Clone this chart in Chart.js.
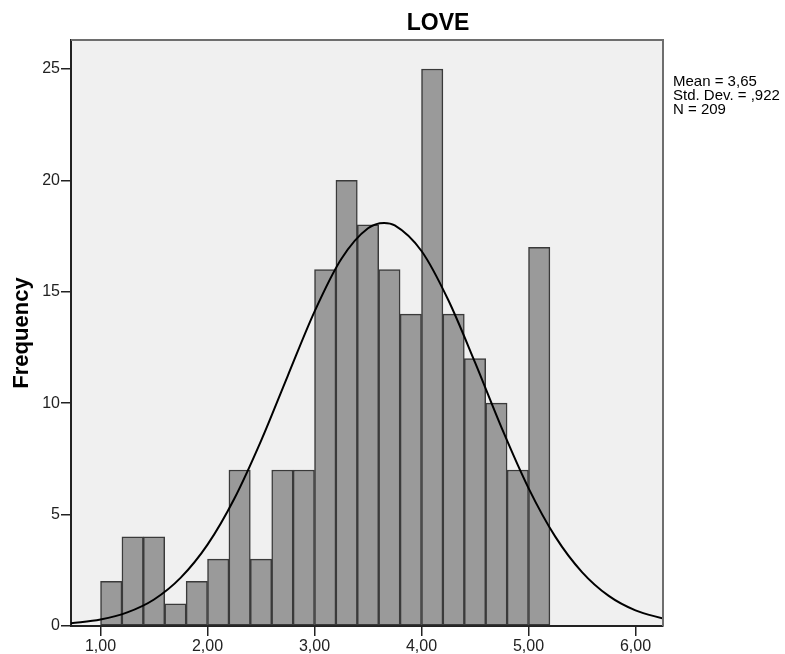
<!DOCTYPE html>
<html>
<head>
<meta charset="utf-8">
<script src="https://cdn.jsdelivr.net/npm/chart.js@4.4.1/dist/chart.umd.min.js"></script>
<style>
  html, body { margin: 0; padding: 0; background: #ffffff; }
  #wrap { width: 785px; height: 654px; position: relative; }
</style>
</head>
<body>
<div id="wrap"><canvas id="c" width="785" height="654"></canvas></div>
<script>
// ---- data ----
const chartTitle = 'LOVE';
const yAxisTitle = 'Frequency';
const binCenters = [1.1, 1.3, 1.5, 1.7, 1.9, 2.1, 2.3, 2.5, 2.7, 2.9, 3.1, 3.3, 3.5, 3.7, 3.9, 4.1, 4.3, 4.5, 4.7, 4.9, 5.1];
const frequencies = [2, 4, 4, 1, 2, 3, 7, 3, 7, 7, 16, 20, 18, 16, 14, 25, 14, 12, 10, 7, 17];
const curveX = [0.72, 1.0, 1.25, 1.5, 1.75, 2.0, 2.25, 2.5, 2.75, 3.0, 3.25, 3.5, 3.65, 3.75, 4.0, 4.25, 4.5, 4.75, 5.0, 5.25, 5.5, 5.75, 6.0, 6.26];
const curveY = [0.12, 0.29, 0.61, 1.19, 2.17, 3.65, 5.71, 8.31, 11.23, 14.11, 16.47, 17.85, 18.09, 17.98, 16.83, 14.63, 11.83, 8.88, 6.19, 4.01, 2.42, 1.35, 0.70, 0.33];
const xTickValues = [1, 2, 3, 4, 5, 6];
const xTickLabels = ['1,00', '2,00', '3,00', '4,00', '5,00', '6,00'];
const yTickValues = [0, 5, 10, 15, 20, 25];
const statLines = ['Mean = 3,65', 'Std. Dev. = ,922', 'N = 209'];
const xRange = [0.724, 6.257];
const yRange = [0, 26.3];

const FONT = '"Liberation Sans", Arial, sans-serif';

const decorPlugin = {
  id: 'decor',
  beforeDraw(chart) {
    const { ctx, chartArea: a } = chart;
    ctx.save();
    ctx.fillStyle = '#ffffff';
    ctx.fillRect(0, 0, chart.width, chart.height);
    ctx.fillStyle = '#f0f0f0';
    ctx.fillRect(a.left, a.top, a.right - a.left, a.bottom - a.top);
    ctx.restore();
  },
  afterDraw(chart) {
    const { ctx, chartArea: a } = chart;
    ctx.save();
    // top and right frame
    ctx.strokeStyle = '#6e6e6e';
    ctx.lineWidth = 2;
    ctx.beginPath();
    ctx.moveTo(a.left, a.top);
    ctx.lineTo(a.right, a.top);
    ctx.lineTo(a.right, a.bottom);
    ctx.stroke();
    // title
    ctx.fillStyle = '#000000';
    ctx.font = 'bold 23px ' + FONT;
    ctx.textAlign = 'center';
    ctx.textBaseline = 'alphabetic';
    ctx.fillText(chartTitle, 438, 30);
    // y axis title
    ctx.save();
    ctx.translate(28, (a.top + a.bottom) / 2);
    ctx.rotate(-Math.PI / 2);
    ctx.font = 'bold 22px ' + FONT;
    ctx.textAlign = 'center';
    ctx.textBaseline = 'alphabetic';
    ctx.fillText(yAxisTitle, 0, 0);
    ctx.restore();
    // stats
    ctx.font = '15px ' + FONT;
    ctx.textAlign = 'left';
    ctx.fillStyle = '#000000';
    statLines.forEach((s, i) => ctx.fillText(s, a.right + 10, 86 + i * 14));
    ctx.restore();
  }
};

new Chart(document.getElementById('c'), {
  type: 'bar',
  data: {
    datasets: [
      {
        type: 'line',
        data: curveX.map((x, i) => ({ x: x, y: curveY[i] })),
        borderColor: '#000000',
        borderWidth: 2,
        pointRadius: 0,
        fill: false,
        cubicInterpolationMode: 'monotone',
        order: 0
      },
      {
        type: 'bar',
        data: binCenters.map((x, i) => ({ x: x, y: frequencies[i] })),
        backgroundColor: '#9a9a9a',
        borderColor: '#3a3a3a',
        borderWidth: 1.5,
        borderSkipped: false,
        barPercentage: 1,
        categoryPercentage: 1,
        grouped: false,
        order: 1
      }
    ]
  },
  options: {
    responsive: false,
    animation: false,
    devicePixelRatio: 1,
    layout: { padding: { left: 0, top: 40, right: 122, bottom: 0 } },
    plugins: { legend: { display: false }, tooltip: { enabled: false }, title: { display: false } },
    scales: {
      x: {
        type: 'linear',
        offset: false,
        min: xRange[0],
        max: xRange[1],
        afterBuildTicks: s => { s.ticks = xTickValues.map(v => ({ value: v })); },
        afterFit: s => { s.height = 28; },
        ticks: {
          autoSkip: false,
          maxRotation: 0,
          padding: 1,
          color: '#222222',
          font: { family: FONT, size: 16 },
          callback: (v, i) => xTickLabels[i]
        },
        grid: { offset: false, drawOnChartArea: false, drawTicks: true, tickLength: 10, color: '#222222', lineWidth: 1.5 },
        border: { display: true, color: '#222222', width: 2 }
      },
      y: {
        type: 'linear',
        min: yRange[0],
        max: yRange[1],
        afterBuildTicks: s => { s.ticks = yTickValues.map(v => ({ value: v })); },
        afterFit: s => { s.width = 71; },
        ticks: {
          padding: 1,
          color: '#222222',
          font: { family: FONT, size: 16 },
          callback: v => String(v)
        },
        grid: { drawOnChartArea: false, drawTicks: true, tickLength: 10, color: '#222222', lineWidth: 1.5 },
        border: { display: true, color: '#222222', width: 2 }
      }
    }
  },
  plugins: [decorPlugin]
});
</script>
</body>
</html>
